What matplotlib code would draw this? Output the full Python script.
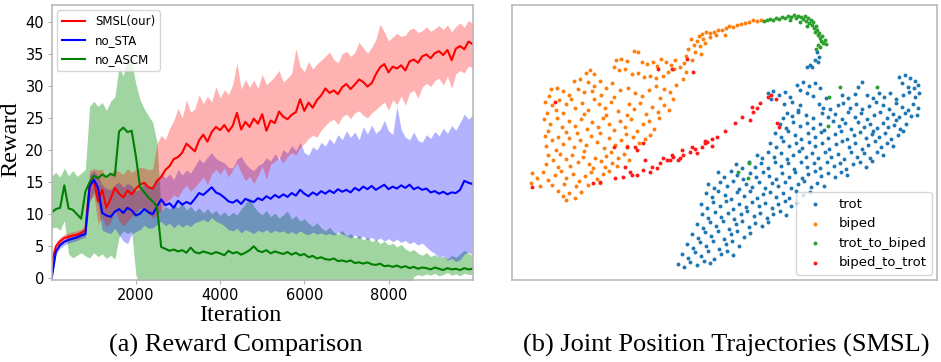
import numpy as np
import matplotlib

matplotlib.use("Agg")
import matplotlib.pyplot as plt


# ---- (a) reward curves, sampled every 100 iterations ----
ITERATION = np.arange(0, 10001, 100)

SMSL_MEAN = [
    2.5, 5.0, 5.8, 6.3, 6.5, 6.7, 6.8, 7.1, 7.5, 14.6,
    15.3, 12.0, 13.8, 11.0, 12.4, 14.1, 13.2, 12.6, 13.7, 13.1,
    14.0, 14.6, 14.9, 14.2, 14.0, 15.2, 15.8, 16.9, 17.5, 18.6,
    18.9, 19.6, 21.0, 20.4, 19.8, 21.5, 22.4, 21.3, 22.8, 23.6,
    23.1, 23.9, 22.9, 23.8, 25.8, 23.2, 24.4, 23.6, 24.9, 24.1,
    25.6, 23.0, 24.6, 24.2, 26.0, 25.2, 24.8, 25.5, 25.9, 27.9,
    26.1, 27.4, 26.6, 27.8, 28.5, 29.6, 28.9, 29.3, 28.7, 29.8,
    30.3, 29.5, 30.2, 31.0, 30.6, 29.9, 30.4, 31.8, 32.9, 33.4,
    32.1, 33.0, 32.7, 33.2, 32.4, 33.8, 34.1, 33.6, 34.6, 34.9,
    34.3, 35.1, 35.4, 34.8, 35.6, 34.0, 35.8, 36.2, 35.7, 36.9,
    36.5,
]
SMSL_UPPER = [
    3.2, 5.6, 6.4, 6.9, 7.1, 7.3, 7.4, 7.7, 8.1, 16.8,
    17.1, 16.9, 17.0, 15.5, 16.4, 17.0, 16.6, 16.2, 17.1, 16.5,
    17.0, 17.3, 17.2, 16.9, 17.1, 21.0, 22.3, 21.6, 23.4, 24.6,
    26.5, 25.0, 27.8, 25.9, 26.4, 28.6, 27.2, 28.4, 27.5, 29.9,
    28.1, 29.4, 28.6, 30.2, 33.6, 29.5, 31.0, 29.8, 30.9, 29.6,
    31.8, 30.2, 30.8, 31.5, 32.4, 30.6, 31.2, 31.9, 35.8, 33.0,
    32.2, 33.8, 32.6, 33.4, 34.0, 34.6, 35.3, 34.1, 33.6, 35.0,
    35.4, 34.6, 35.2, 36.8, 35.9, 35.1, 36.0, 37.2, 39.6, 38.4,
    37.0, 37.6, 38.2, 37.7, 37.9, 38.8, 39.0, 38.3, 38.6, 39.2,
    38.5, 38.9, 39.4, 38.8, 39.5, 38.4, 39.3, 39.8, 39.1, 40.2,
    39.7,
]
SMSL_LOWER = [
    1.8, 4.4, 5.2, 5.7, 5.9, 6.1, 6.2, 6.5, 6.9, 12.0,
    13.0, 8.5, 9.5, 8.0, 8.8, 10.5, 9.0, 8.2, 8.9, 9.6,
    10.2, 11.0, 10.8, 10.0, 9.4, 9.8, 10.5, 11.8, 12.3, 13.0,
    12.6, 13.8, 14.5, 13.6, 14.2, 15.0, 15.8, 14.6, 16.3, 17.0,
    16.2, 17.2, 15.8, 16.9, 18.0, 16.5, 15.2, 15.9, 14.8, 16.0,
    17.5, 15.4, 17.8, 18.2, 18.9, 18.0, 19.0, 19.6, 19.2, 20.4,
    21.0, 21.8, 22.3, 22.0, 23.1, 23.8, 24.5, 24.8, 24.0, 25.2,
    25.6, 24.9, 25.8, 26.1, 25.4, 25.0, 25.8, 26.3, 26.9, 27.5,
    26.2, 27.8, 27.1, 28.4, 27.0, 28.9, 29.3, 28.1, 29.8, 30.4,
    29.9, 30.8, 31.2, 30.1, 31.5, 29.6, 31.9, 32.4, 32.0, 33.1,
    32.8,
]

NO_STA_MEAN = [
    0.0, 4.2, 5.2, 5.7, 6.0, 6.2, 6.4, 6.7, 6.9, 14.3,
    15.4, 14.1, 10.2, 9.8, 9.6, 10.4, 10.8, 10.2, 11.0, 10.6,
    9.8, 10.1, 10.8, 10.3, 10.0, 11.2, 12.3, 11.4, 11.7, 11.0,
    12.1, 11.5, 11.9, 11.6, 12.4, 13.3, 13.0, 13.6, 14.2, 13.4,
    13.1, 12.6, 12.0, 11.8, 12.2, 11.6, 12.4, 12.1, 11.9, 12.5,
    12.2, 12.8, 12.4, 13.0, 12.6, 13.1, 12.7, 13.3, 12.9, 13.8,
    13.2, 12.8, 13.4, 13.0, 13.6, 13.2, 13.7, 13.3, 13.9, 13.5,
    13.8, 13.4, 14.1, 13.7, 14.3, 13.9, 14.4, 13.8, 14.2, 14.6,
    13.9, 14.3, 14.0, 14.5, 14.1, 14.6, 13.9, 14.2, 13.8, 14.0,
    13.4, 13.6, 13.2, 13.5, 13.1, 13.4, 13.3, 13.8, 15.2, 14.9,
    14.7,
]
NO_STA_UPPER = [
    0.3, 4.7, 5.7, 6.2, 6.5, 6.7, 6.9, 7.2, 7.4, 16.2,
    16.8, 16.0, 14.5, 14.0, 13.8, 14.6, 15.0, 14.2, 14.8, 14.5,
    13.6, 13.9, 14.9, 14.3, 14.1, 15.2, 16.5, 15.6, 16.3, 15.4,
    17.0, 16.1, 16.9, 16.4, 17.5, 18.6, 18.0, 18.9, 19.6, 18.7,
    18.3, 18.0, 17.3, 17.2, 18.6, 19.0, 17.9, 17.2, 16.8, 17.6,
    17.9, 18.8, 18.3, 19.4, 18.6, 20.1, 19.5, 20.7, 19.9, 21.2,
    19.6, 19.2, 20.5, 20.0, 21.2, 20.6, 21.8, 21.0, 22.4, 21.6,
    23.0, 22.0, 22.8, 21.6, 23.6, 22.5, 23.9, 22.6, 23.2, 24.6,
    23.0, 22.4, 26.8, 23.2, 22.0, 21.6, 22.8, 21.5, 21.2, 22.4,
    21.8, 22.9, 22.2, 23.4, 22.6, 23.8, 23.1, 24.3, 25.6, 24.8,
    25.4,
]
NO_STA_LOWER = [
    0.0, 3.7, 4.7, 5.2, 5.5, 5.7, 5.9, 6.2, 6.4, 12.0,
    13.5, 11.5, 7.5, 7.2, 7.0, 7.8, 6.8, 5.8, 5.4, 6.9,
    7.3, 7.6, 8.3, 7.8, 7.9, 8.4, 8.9, 8.2, 8.6, 7.9,
    8.5, 8.0, 8.4, 8.1, 8.7, 8.9, 9.2, 8.8, 9.5, 8.9,
    8.6, 8.2, 7.6, 7.4, 7.8, 7.1, 7.6, 7.3, 7.0, 7.5,
    7.2, 7.6, 7.1, 7.5, 7.2, 7.4, 7.0, 7.3, 6.9, 7.4,
    7.0, 6.8, 7.2, 6.9, 7.1, 6.8, 7.0, 6.7, 7.2, 6.9,
    6.6, 6.3, 6.8, 6.2, 6.6, 6.0, 6.4, 5.9, 6.3, 5.8,
    6.2, 5.7, 6.1, 5.6, 5.9, 5.4, 5.7, 5.2, 5.5, 4.9,
    4.3, 3.9, 3.2, 3.6, 2.8, 3.1, 2.6, 2.9, 3.8, 4.1,
    3.6,
]

NO_ASCM_MEAN = [
    10.3, 10.8, 11.0, 14.5, 10.9, 10.7, 10.0, 9.3, 13.5, 15.0,
    16.0, 15.6, 16.2, 15.8, 16.3, 16.0, 22.9, 23.5, 22.8, 23.0,
    19.0, 14.2, 13.4, 12.6, 12.0, 11.2, 4.9, 4.6, 4.3, 4.5,
    4.2, 4.4, 4.0, 4.8, 4.1, 3.9, 4.2, 4.0, 3.8, 4.1,
    3.9, 3.6, 4.3, 3.9, 4.1, 3.7, 4.0, 4.4, 5.0, 4.3,
    4.1, 4.4, 3.9, 4.2, 4.0, 3.8, 4.1, 3.7, 4.0, 3.6,
    3.8, 3.3, 3.5, 3.1, 3.3, 3.0, 2.9, 3.1, 2.7, 2.8,
    2.6, 2.8, 2.4, 2.5, 2.3, 2.5, 2.2, 2.1, 2.3, 1.9,
    2.0, 1.8, 2.0, 1.7, 1.9, 1.6, 1.8, 1.5, 1.7, 1.6,
    1.4, 1.7, 1.5, 1.3, 1.6, 1.4, 1.5, 1.3, 1.6, 1.4,
    1.5,
]
NO_ASCM_UPPER = [
    16.0, 16.5, 15.8, 17.2, 16.0, 16.8, 15.9, 16.4, 17.0, 26.8,
    27.6, 26.8, 27.4, 26.2, 27.6, 28.3, 33.0, 31.5, 34.2, 33.6,
    30.3, 27.8, 26.4, 25.3, 24.3, 21.2, 10.5, 11.2, 10.8, 11.5,
    10.9, 11.8, 10.6, 11.3, 10.4, 11.0, 10.2, 10.9, 10.1, 10.6,
    9.8, 10.4, 9.7, 10.3, 9.9, 10.8, 11.6, 12.6, 11.2, 10.4,
    9.9, 10.6, 9.6, 10.2, 9.4, 9.9, 10.5, 9.2, 9.8, 8.9,
    9.3, 8.6, 8.1, 8.7, 7.9, 7.4, 8.0, 7.2, 6.9, 7.5,
    6.6, 7.0, 6.3, 6.7, 6.0, 6.4, 5.7, 6.1, 5.4, 5.8,
    5.2, 5.5, 4.9, 5.3, 4.6, 4.2, 4.5, 3.9, 3.6, 4.0,
    3.4, 3.7, 3.2, 3.5, 3.0, 3.6, 3.3, 3.8, 4.4, 3.9,
    3.5,
]
NO_ASCM_LOWER = [
    7.8, 8.0, 7.5, 9.0, 3.8, 3.2, 3.6, 4.0, 3.5, 3.2,
    4.0, 3.4, 3.8, 3.1, 3.6, 3.0, 6.5, 7.4, 7.0, 7.3,
    0.5, -1.5, -1.5, -1.5, -1.5, -1.5, -1.5, -1.5, -1.5, -1.5,
    -1.5, -1.5, -1.5, -1.5, -1.5, -1.5, -1.5, -1.5, -1.5, -1.5,
    -1.5, -1.5, -1.5, -1.5, -1.5, -1.5, -1.5, -1.5, -1.5, -1.5,
    -1.5, -1.5, -1.5, -1.5, -1.5, -1.5, -1.5, -1.5, -1.5, -1.5,
    -1.5, -1.5, -1.5, -1.5, -1.5, -1.5, -1.5, -1.5, -1.5, -1.5,
    -1.5, -1.5, -1.5, -1.5, -1.5, -1.5, -1.5, -1.5, -1.5, -1.5,
    -1.5, -1.5, -1.5, -1.5, -1.5, -1.5, 0.3, 0.6, 0.4, 0.7,
    0.5, 0.8, 0.4, 0.6, 0.9, 0.5, 0.7, 0.4, 0.8, 0.6,
    0.6,
]

# ---- (b) 2-D embedding of joint positions (x, y), y grows downward ----
TROT = [
    (817, 53), (819, 58), (818, 63), (815, 61), (810, 66), (807, 68), (812, 68),
    (899, 78), (905, 76), (910, 79), (915, 82), (902, 84), (908, 87), (914, 88),
    (918, 85), (862, 83), (858, 87), (797, 85), (803, 83), (809, 86), (815, 84),
    (820, 88), (800, 90),
    (768, 93), (773, 91), (779, 95), (785, 92), (790, 97), (771, 99), (807, 93),
    (813, 96), (826, 98), (842, 95), (848, 98), (855, 94), (867, 95), (873, 98),
    (879, 93), (884, 97), (890, 93), (896, 99), (903, 95), (909, 92), (915, 97),
    (919, 93),
    (784, 104), (792, 102), (800, 105), (819, 104), (823, 108), (838, 105),
    (843, 103), (850, 108), (856, 104), (862, 109), (869, 106), (876, 102),
    (883, 105), (889, 109), (896, 103), (902, 107), (908, 110), (913, 104),
    (918, 108), (798, 110), (830, 109),
    (787, 113), (783, 118), (792, 116), (798, 112), (806, 115), (813, 118),
    (822, 113), (828, 117), (835, 114), (842, 119), (848, 112), (855, 117),
    (861, 113), (867, 119), (874, 115), (880, 112), (887, 118), (893, 114),
    (899, 117), (905, 113), (911, 116), (917, 115), (896, 120),
    (780, 124), (786, 128), (793, 122), (800, 126), (807, 123), (813, 128),
    (820, 124), (824, 130), (833, 121), (839, 126), (845, 123), (851, 129),
    (858, 122), (864, 127), (870, 124), (877, 128), (883, 123), (888, 127),
    (894, 125), (900, 129), (906, 124), (873, 131),
    (775, 133), (781, 137), (788, 131), (795, 135), (801, 139), (808, 133),
    (815, 137), (821, 132), (828, 138), (835, 134), (841, 131), (847, 139),
    (854, 135), (860, 132), (866, 138), (872, 134), (879, 137), (885, 133),
    (891, 139), (898, 135), (903, 131),
    (770, 143), (776, 147), (783, 141), (789, 146), (796, 143), (802, 148),
    (809, 142), (815, 146), (822, 143), (829, 149), (836, 144), (842, 141),
    (849, 147), (855, 143), (862, 149), (868, 145), (875, 141), (881, 147),
    (887, 143), (893, 146),
    (757, 155), (762, 158), (768, 152), (774, 157), (781, 153), (787, 159),
    (793, 155), (799, 151), (806, 157), (812, 153), (818, 158), (825, 152),
    (831, 157), (838, 154), (844, 159), (851, 152), (857, 157), (864, 153),
    (870, 158), (877, 152), (883, 155),
    (736, 164), (742, 168), (749, 162), (755, 167), (761, 163), (768, 168),
    (775, 162), (781, 166), (788, 163), (794, 169), (801, 162), (807, 167),
    (814, 163), (820, 168), (827, 162), (834, 166), (840, 163), (846, 169),
    (853, 164), (860, 162), (866, 167), (872, 161),
    (718, 172), (724, 177), (731, 171), (737, 175), (743, 179), (750, 173),
    (756, 177), (763, 172), (769, 176), (776, 179), (782, 173), (789, 177),
    (795, 172), (802, 178), (808, 174), (815, 171), (821, 176), (828, 173),
    (835, 177), (841, 172), (847, 175),
    (708, 184), (714, 188), (720, 182), (727, 186), (733, 181), (739, 189),
    (746, 184), (752, 187), (759, 182), (765, 188), (772, 183), (778, 186),
    (785, 182), (791, 188), (798, 184), (804, 181), (811, 187), (817, 183),
    (824, 186),
    (706, 193), (712, 197), (718, 191), (725, 195), (731, 199), (737, 192),
    (744, 196), (750, 191), (757, 198), (763, 194), (770, 192), (776, 197),
    (783, 193), (789, 198), (796, 191), (803, 195), (810, 192),
    (701, 204), (707, 208), (713, 202), (720, 206), (726, 201), (733, 209),
    (739, 204), (746, 207), (752, 202), (759, 206), (765, 203), (772, 208),
    (778, 204), (785, 201), (791, 206), (797, 203),
    (702, 214), (708, 218), (715, 212), (721, 217), (728, 213), (734, 219),
    (741, 214), (747, 211), (754, 216), (760, 213), (767, 218), (773, 214),
    (780, 211), (786, 215),
    (697, 224), (703, 228), (710, 222), (716, 226), (723, 221), (729, 229),
    (736, 224), (742, 221), (749, 227), (755, 223), (762, 226), (768, 222),
    (692, 234), (698, 238), (705, 232), (711, 236), (718, 231), (724, 239),
    (731, 234), (737, 231), (744, 237), (750, 233),
    (687, 244), (693, 248), (700, 242), (706, 246), (713, 241), (719, 249),
    (726, 244), (732, 241), (739, 246),
    (682, 254), (688, 258), (695, 252), (701, 256), (708, 251), (714, 259),
    (721, 254), (727, 251), (733, 255),
    (678, 264), (684, 267), (690, 262), (697, 265), (704, 261), (710, 263),
]

BIPED = [
    (761, 21), (757, 22), (753, 21), (749, 23), (745, 24), (741, 25), (737, 26),
    (733, 28), (729, 27), (726, 29), (722, 31), (718, 31), (714, 33), (710, 34),
    (706, 33), (702, 35), (699, 37), (703, 40), (697, 42), (694, 46), (700, 47),
    (705, 44), (710, 38), (716, 36), (725, 36), (691, 40), (688, 50), (695, 53),
    (701, 55), (686, 57), (692, 61), (684, 64),
    (634, 52), (638, 53), (616, 61), (621, 60), (627, 62), (642, 63), (647, 65),
    (653, 63), (657, 67), (661, 60), (666, 63), (671, 66), (675, 61), (614, 68),
    (619, 71), (625, 70), (632, 75), (638, 74), (644, 78), (650, 77), (656, 79),
    (663, 77), (668, 73), (674, 70), (680, 68), (686, 73), (590, 71), (594, 75),
    (586, 74),
    (574, 82), (580, 80), (588, 83), (594, 86), (578, 89), (584, 92), (592, 91),
    (600, 82), (606, 88), (612, 84), (620, 90), (628, 88), (635, 93), (642, 96),
    (649, 90), (656, 86), (664, 89), (670, 92), (676, 85), (683, 80), (551, 89),
    (557, 88), (563, 91), (569, 95), (549, 96), (601, 95), (614, 97), (660, 98),
    (673, 99),
    (545, 102), (552, 105), (559, 100), (556, 110), (547, 113), (566, 104),
    (571, 99), (575, 108), (582, 103), (588, 110), (594, 99), (599, 104),
    (605, 108), (611, 102), (618, 111), (629, 104), (634, 109), (640, 103),
    (646, 114), (652, 107), (658, 112), (664, 105), (669, 110), (627, 115),
    (563, 113), (584, 114), (606, 115),
    (544, 119), (550, 124), (557, 118), (562, 127), (548, 131), (569, 121),
    (575, 126), (581, 119), (587, 129), (592, 122), (598, 127), (603, 118),
    (609, 124), (614, 130), (620, 121), (625, 127), (631, 119), (637, 131),
    (643, 124), (649, 121), (654, 129), (659, 118), (566, 132), (577, 133),
    (600, 133), (626, 134),
    (545, 136), (552, 140), (546, 146), (558, 137), (563, 144), (569, 138),
    (574, 147), (580, 140), (586, 145), (591, 136), (597, 142), (604, 148),
    (609, 138), (615, 145), (621, 140), (627, 146), (633, 137), (639, 143),
    (645, 139), (650, 135), (556, 150), (584, 151), (611, 152),
    (548, 155), (553, 160), (560, 154), (566, 159), (572, 155), (578, 162),
    (583, 157), (589, 164), (595, 158), (601, 161), (606, 156), (612, 163),
    (618, 158), (624, 154), (629, 160), (546, 164), (558, 167), (570, 166),
    (593, 168), (605, 167), (617, 166),
    (532, 173), (537, 178), (543, 172), (548, 180), (555, 175), (561, 171),
    (566, 178), (573, 174), (579, 181), (585, 176), (591, 172), (597, 179),
    (603, 174), (609, 171), (531, 183), (540, 186), (552, 185), (564, 184),
    (576, 186), (588, 185), (600, 183),
    (558, 191), (563, 196), (569, 193), (575, 198), (581, 192), (566, 200),
]

TROT_TO_BIPED = [
    (764, 22), (767, 21), (770, 20), (773, 21), (776, 19), (779, 20), (782, 18),
    (785, 19), (788, 17), (791, 18), (794, 16), (796, 19), (798, 17), (801, 18),
    (803, 20), (805, 17), (806, 22), (808, 19), (809, 24), (811, 21), (812, 26),
    (813, 23), (814, 29), (816, 27), (815, 33), (817, 31), (818, 36), (819, 34),
    (820, 39), (822, 37), (821, 42), (823, 44), (825, 41), (826, 45), (818, 46),
    (816, 50), (820, 48), (790, 21), (800, 23), (807, 27),
    (829, 97), (840, 87), (877, 87), (828, 126), (738, 172), (749, 163),
    (748, 178),
]

BIPED_TO_TROT = [
    (532, 187), (593, 183), (600, 182), (615, 178), (623, 177), (632, 175),
    (625, 167), (637, 175), (630, 172), (643, 170), (650, 172), (645, 160),
    (652, 167), (657, 168), (660, 163), (663, 158), (667, 160), (670, 160),
    (672, 155), (673, 157), (678, 160), (680, 158), (682, 150), (683, 155),
    (690, 152), (692, 147), (695, 149), (697, 153), (702, 147), (705, 143),
    (707, 142), (712, 139), (717, 137), (725, 131), (735, 123), (742, 117),
    (750, 120), (752, 107), (753, 112), (757, 108), (760, 103), (768, 97),
    (777, 123), (779, 127), (771, 95), (776, 99), (705, 141), (712, 146),
    (555, 102), (658, 70), (672, 70), (687, 60), (693, 73),
    (614, 147), (627, 147), (635, 147), (643, 143), (637, 150),
]

SCATTER_LABELS = ["trot", "biped", "trot_to_biped", "biped_to_trot"]
SCATTER_COLORS = ["#1f77b4", "#ff7f0e", "#2ca02c", "#ff1a1a"]

SERIF = "Liberation Serif"
FRAME = "#b4b4b4"


def draw_rewards(ax):
    # bands first (green under blue under red), then the mean curves
    ax.fill_between(ITERATION, NO_ASCM_LOWER, NO_ASCM_UPPER,
                    color="#2ca02c", alpha=0.45, linewidth=0)
    ax.fill_between(ITERATION, NO_STA_LOWER, NO_STA_UPPER,
                    color="blue", alpha=0.3, linewidth=0)
    ax.fill_between(ITERATION, SMSL_LOWER, SMSL_UPPER,
                    color="red", alpha=0.3, linewidth=0)
    ax.plot(ITERATION, SMSL_MEAN, color="red", lw=1.5, label="SMSL(our)")
    ax.plot(ITERATION, NO_STA_MEAN, color="blue", lw=1.5, label="no_STA")
    ax.plot(ITERATION, NO_ASCM_MEAN, color="green", lw=1.5, label="no_ASCM")

    ax.set_xlim(0, 10000)
    ax.set_ylim(-0.25, 42.6)
    ax.set_xticks([2000, 4000, 6000, 8000])
    ax.set_yticks(range(0, 41, 5))
    ax.tick_params(labelsize=10.5, length=3, color=FRAME, pad=2.5)
    for spine in ax.spines.values():
        spine.set_color(FRAME)
        spine.set_linewidth(1.1)

    ax.set_xlabel("Iteration", family=SERIF, fontsize=17.5)
    ax.xaxis.set_label_coords(0.447, -0.092)
    ax.set_ylabel("Reward", family=SERIF, fontsize=17.5)
    ax.yaxis.set_label_coords(-0.072, 0.51)
    ax.legend(loc="upper left", fontsize=8.5, borderaxespad=0.45,
              edgecolor="#cccccc", fancybox=True)


def draw_embedding(ax):
    groups = [TROT, BIPED, TROT_TO_BIPED, BIPED_TO_TROT]
    for points, label, color in zip(groups, SCATTER_LABELS, SCATTER_COLORS):
        pts = np.array(points)
        ax.scatter(pts[:, 0], pts[:, 1], s=8, color=color, label=label,
                   linewidths=0)
    ax.set_xlim(512, 937)
    ax.set_ylim(280, 5.7)
    ax.set_xticks([])
    ax.set_yticks([])
    for spine in ax.spines.values():
        spine.set_color(FRAME)
        spine.set_linewidth(1.1)
    ax.legend(loc="lower right", fontsize=9.5, borderaxespad=0.4,
              markerscale=1.0, edgecolor="#cccccc")


def main():
    fig = plt.figure(figsize=(9.41, 3.62), dpi=100)
    ax_a = fig.add_axes([0.05494, 0.22652, 0.44740, 0.75967])
    ax_b = fig.add_axes([0.54410, 0.22652, 0.45165, 0.75967])
    draw_rewards(ax_a)
    draw_embedding(ax_b)

    fig.text(0.2508, 0.028, "(a) Reward Comparison", family=SERIF,
             fontsize=19, ha="center", va="baseline")
    fig.text(0.7715, 0.028, "(b) Joint Position Trajectories (SMSL)",
             family=SERIF, fontsize=19, ha="center", va="baseline")

    fig.savefig("out.png", dpi=100, facecolor="white")
    plt.close(fig)


if __name__ == "__main__":
    main()
